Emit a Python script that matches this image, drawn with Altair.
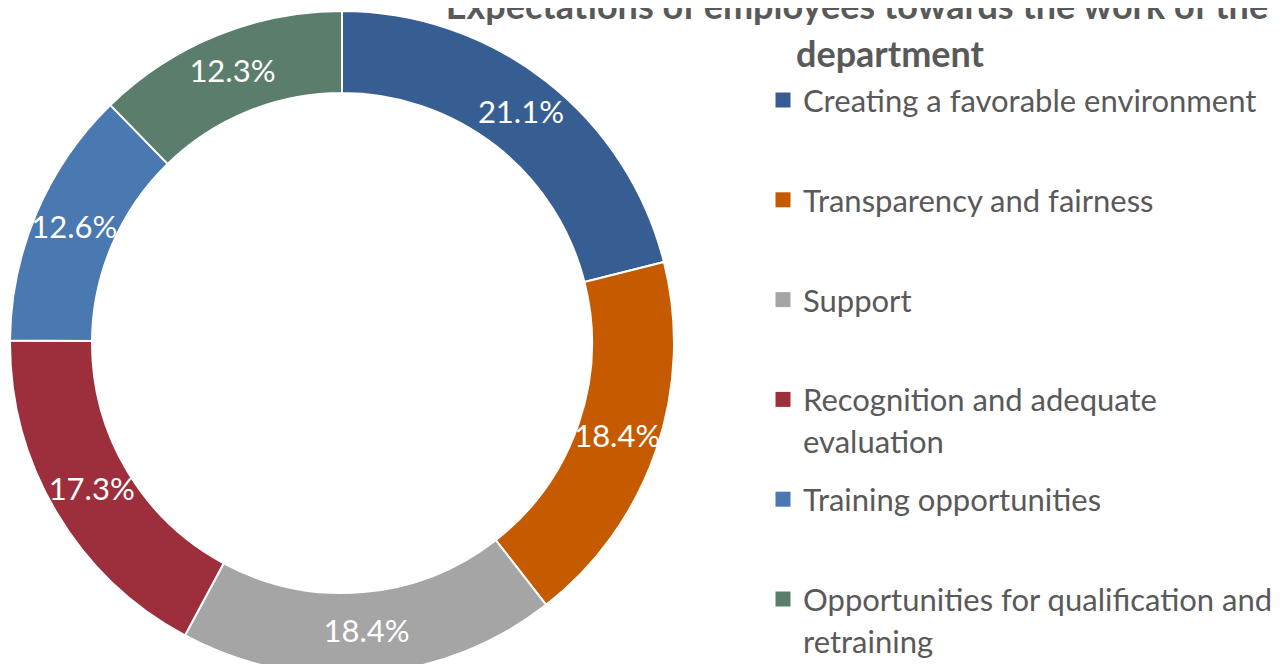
import altair as alt
import pandas as pd

categories = [
    "Creating a favorable environment",
    "Transparency and fairness",
    "Support",
    "Recognition and adequate evaluation",
    "Training opportunities",
    "Opportunities for qualification and retraining",
]
legend_labels = [
    "Creating a favorable environment",
    "Transparency and fairness",
    "Support",
    "Recognition and adequate|evaluation",
    "Training opportunities",
    "Opportunities for qualification and|retraining",
]
values = [21.1, 18.4, 18.4, 17.3, 12.6, 12.3]
colors = ["#375E93", "#C55A00", "#A5A5A5", "#9C2F3B", "#4A78B0", "#5B7E6C"]
title_lines = ["Expectations of employees towards the work of the", "department"]

df = pd.DataFrame({
    "category": categories,
    "legend_label": legend_labels,
    "value": values,
    "idx": list(range(len(categories))),
})

FONT = "Lato"
TXT = "#595959"
CX, CY = 334, 335

color = alt.Color("category:N", scale=alt.Scale(domain=categories, range=colors), legend=None)

base = alt.Chart(df).transform_calculate(
    pct="format(datum.value, '.1f') + '%'",
    lines="split(datum.legend_label, '|')",
)

arcs = base.mark_arc(innerRadius=250, outerRadius=332, stroke="white", strokeWidth=2).encode(
    theta=alt.Theta("value:Q", stack=True),
    color=color,
    order=alt.Order("idx:Q"),
    x=alt.value(CX),
    y=alt.value(CY),
)

labels = base.mark_text(radius=291, font=FONT, fontSize=31, color="white").encode(
    theta=alt.Theta("value:Q", stack=True),
    text="pct:N",
    order=alt.Order("idx:Q"),
    x=alt.value(CX),
    y=alt.value(CY),
)

yscale = alt.Scale(domain=categories, range=[92, 591], type="point", padding=0)

leg_sq = base.mark_square(size=225, opacity=1).encode(
    y=alt.Y("category:N", scale=yscale, axis=None),
    x=alt.value(775),
    color=color,
)

leg_txt = base.mark_text(
    font=FONT, fontSize=31, color=TXT, align="left", baseline="alphabetic", dy=12, lineHeight=42
).encode(
    y=alt.Y("category:N", scale=yscale, axis=None),
    x=alt.value(795),
    text="lines:N",
)

title_df = pd.DataFrame({"t": title_lines, "i": [0, 1]})
title = alt.Chart(title_df).mark_text(
    font=FONT, fontSize=36, fontWeight="bold", color=TXT, align="center", baseline="alphabetic"
).encode(
    text="t:N",
    x=alt.X("i:O", scale=alt.Scale(type="point", domain=[0, 1], range=[849, 882], padding=0), axis=None),
    y=alt.Y("i:O", scale=alt.Scale(type="point", domain=[0, 1], range=[11, 59], padding=0), axis=None),
)

chart = alt.layer(arcs, labels, leg_sq, leg_txt, title).resolve_scale(
    x="independent", y="independent"
).properties(
    width=1272, height=656, autosize=alt.AutoSizeParams(type="none"), padding=0
).configure_view(stroke=None)

chart.save("out.html", embed_options={"renderer": "svg", "actions": False})
